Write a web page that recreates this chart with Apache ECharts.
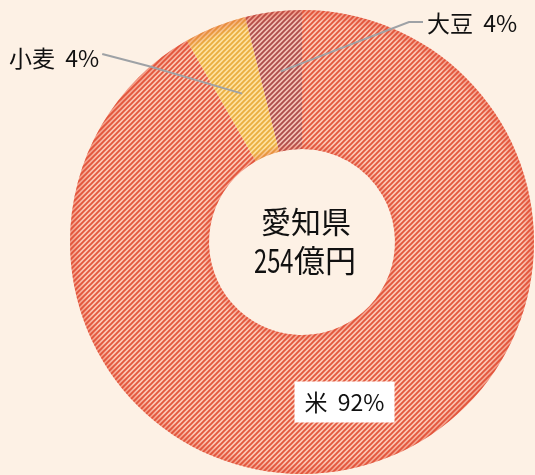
<!DOCTYPE html>
<html><head><meta charset="utf-8">
<script src="https://cdn.jsdelivr.net/npm/echarts@6/dist/echarts.min.js"></script>
<style>html,body{margin:0;padding:0;background:#fdf1e5;}#c{width:535px;height:475px;}</style>
</head><body><div id="c"></div>
<script>
const categories = ['米', '小麦', '大豆'];
const values = [233, 11, 10]; // 億円
const centerName = '愛知県';
const centerAmount = '254';
const centerUnit = '億円';

const FONT = "'Noto Sans CJK JP', sans-serif";
function stripe(bg, fg, lw) {
  const p = 5;
  const c = document.createElement('canvas');
  c.width = p; c.height = p;
  const ctx = c.getContext('2d');
  ctx.fillStyle = bg; ctx.fillRect(0, 0, p, p);
  ctx.strokeStyle = fg; ctx.lineWidth = lw; ctx.lineCap = 'square';
  ctx.beginPath();
  ctx.moveTo(0, p); ctx.lineTo(p, 0);
  ctx.moveTo(-1, 1); ctx.lineTo(1, -1);
  ctx.moveTo(p - 1, p + 1); ctx.lineTo(p + 1, p - 1);
  ctx.stroke();
  return c;
}
const patterns = [
  stripe('#fccab7', '#e3583e', 1.9),
  stripe('#fde2a0', '#eaae40', 1.9),
  stripe('#f3c4b8', '#ad4d4b', 1.9)
];
const CX = 302, CY = 242, R0 = 93, R1 = 232;
// label anchor layout (positions only)
const labelPos = { 1: { x: 9, y: 58, rIn: 160 }, 2: { x: 427, y: 23, rIn: 172 } };

const chart = echarts.init(document.getElementById('c'));
const shade = {
  type: 'radial', x: CX, y: CY, r: R1, global: true,
  colorStops: [
    { offset: R0 / R1, color: 'rgba(225,75,50,0.35)' },
    { offset: R0 / R1 + 0.035, color: 'rgba(225,75,50,0.0)' },
    { offset: 0.95, color: 'rgba(225,75,50,0.0)' },
    { offset: 1, color: 'rgba(225,75,50,0.4)' }
  ]
};
chart.setOption({
  backgroundColor: '#fdf1e5',
  animation: false,
  series: [{
    type: 'pie',
    center: [CX, CY],
    radius: [R0, R1],
    startAngle: 90,
    clockwise: true,
    avoidLabelOverlap: false,
    data: categories.map((n, i) => ({
      name: n, value: values[i],
      itemStyle: { color: { image: patterns[i], repeat: 'repeat' } },
      label: i === 0 ? {
        position: 'inside', backgroundColor: '#ffffff', padding: [9, 10]
      } : { position: 'outside' }
    })),
    label: {
      formatter: p => p.name + '  ' + Math.round(p.percent) + '%',
      fontSize: 23, fontFamily: FONT, color: '#111'
    },
    labelLine: { show: false },
    labelLayout: function (params) {
      const lp = labelPos[params.dataIndex];
      if (!lp) return {};
      return { x: lp.x, y: lp.y, align: 'left', verticalAlign: 'middle' };
    }
  }, {
    type: 'pie',
    center: [CX, CY],
    radius: [R0, R1],
    startAngle: 90,
    clockwise: true,
    silent: true,
    label: { show: false },
    labelLine: { show: false },
    data: categories.map((n, i) => ({ name: n, value: values[i], itemStyle: { color: shade } }))
  }]
});

// leader lines from the slice middles (using the library's pie layout)
const sData = chart.getModel().getSeriesByIndex(0).getData();
const lines = [];
[1, 2].forEach(i => {
  const lay = sData.getItemLayout(i);
  const mid = (lay.startAngle + lay.endAngle) / 2;
  const r = labelPos[i].rIn;
  const p0 = [lay.cx + r * Math.cos(mid), lay.cy + r * Math.sin(mid)];
  const lbl = sData.getItemGraphicEl(i).getTextContent();
  const rect = lbl.getBoundingRect().clone();
  rect.applyTransform(lbl.getComputedTransform());
  let pts;
  if (i === 1) {
    const ex = rect.x + rect.width + 3, ey = labelPos[i].y - 4;
    pts = [p0, [ex + 46, ey + 12], [ex, ey]];
  } else {
    const ex = rect.x - 4, ey = labelPos[i].y - 1;
    pts = [p0, [ex - 14, ey], [ex, ey]];
  }
  lines.push({ type: 'polyline', z: 10, shape: { points: pts },
    style: { stroke: '#9ea2a6', lineWidth: 2, fill: null } });
});
const txt = (t, x, y, size, align, sx) => ({
  type: 'text', x: x, y: y, z: 10, scaleX: sx || 1,
  style: { text: t, fontSize: size, fontFamily: FONT, fill: '#111', align: align, verticalAlign: 'middle' }
});
chart.setOption({
  graphic: [
    txt(centerName, 306, 222, 30, 'center'),
    txt(centerAmount, 254, 260, 33, 'left', 0.72),
    txt(centerUnit, 294, 260, 31, 'left')
  ].concat(lines)
});
</script></body></html>
